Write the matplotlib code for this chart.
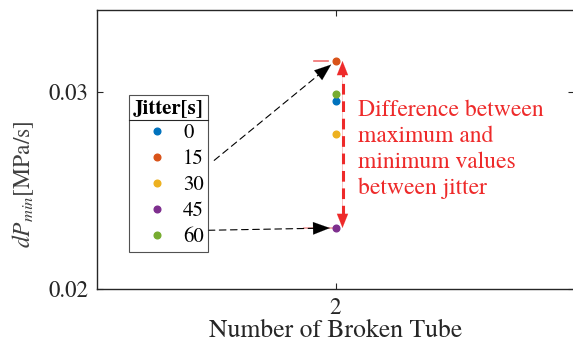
import matplotlib
matplotlib.use("Agg")
import matplotlib.pyplot as plt
import matplotlib.transforms as mtransforms
from matplotlib.lines import Line2D

# Chart data
tube_count = 2
jitter_labels = ["0", "15", "30", "45", "60"]
dp_min = [0.02954, 0.03157, 0.02787, 0.02310, 0.02990]
colors = ["#0072BD", "#D95319", "#EDB120", "#7E2F8E", "#77AC30"]
y_ticks = [0.02, 0.03]
note_text = "Difference between\nmaximum and\nminimum values\nbetween jitter"

# Times-like fonts
plt.rcParams["font.family"] = ["TeX Gyre Termes", "STIXGeneral", "DejaVu Serif"]
plt.rcParams["mathtext.fontset"] = "custom"
plt.rcParams["mathtext.rm"] = "TeX Gyre Termes"
plt.rcParams["mathtext.it"] = "TeX Gyre Termes:italic"

fig = plt.figure(figsize=(5.73, 3.52), dpi=100)
ax = fig.add_axes([97 / 573, 63 / 352, 477 / 573, 279 / 352])

# Points, one per jitter value
for lab, val, col in zip(jitter_labels, dp_min, colors):
    ax.plot(tube_count, val, "o", color=col, markersize=4.8, label=lab, zorder=5)

ax.set_xlim(1, 3)
ax.set_ylim(0.02, 0.03416)
ax.set_xticks([tube_count])
ax.set_yticks(y_ticks)
ax.set_yticklabels(["0.02", "0.03"])
ax.tick_params(direction="in", top=True, right=True, length=4.5, width=0.8,
               labelsize=16.5, colors="#262626", pad=6)
for sp in ax.spines.values():
    sp.set_linewidth(1.0)
    sp.set_color("#262626")

ax.set_xlabel("Number of Broken Tube", fontsize=18.5, color="#262626", labelpad=0)
ax.set_ylabel(r"$dP_{min}$[MPa/s]", fontsize=17, color="#404040")
ax.yaxis.set_label_coords(-0.128, 0.375)

# Max / min values
ymax = max(dp_min)
ymin = min(dp_min)
imax = dp_min.index(ymax)
imin = dp_min.index(ymin)

# Faint red marks at max and min
ax.plot([1.91, 1.97], [ymax, ymax], color="#f07070", lw=1.2, zorder=3)
ax.plot([1.87, 1.99], [ymin, ymin], color="#f0a0a0", lw=1.2, zorder=3)

# Red dashed double arrow shifted right of the points
shift = mtransforms.offset_copy(ax.transData, fig=fig, x=7, y=0, units="dots")
red = "#ee2a2a"
ax.plot([tube_count, tube_count], [ymin + 0.0006, ymax - 0.0006], transform=shift,
        color=red, lw=2.2, linestyle=(0, (3.5, 2.2)), zorder=4)
for start, end in [(ymin + 0.001, ymax), (ymax - 0.001, ymin)]:
    ax.annotate("", xy=(tube_count, end), xytext=(tube_count, start),
                xycoords=shift, textcoords=shift,
                arrowprops=dict(arrowstyle="-|>,head_length=1.0,head_width=0.4",
                                color=red, lw=0.1, shrinkA=0, shrinkB=0))

ax.text(0.548, 0.678, note_text, transform=ax.transAxes, color=red,
        fontsize=17, va="top", ha="left", linespacing=1.27)

# Legend
leg = ax.legend(title="Jitter[s]", loc="upper left",
                bbox_to_anchor=(129 / 573, 1 - 95 / 352),
                bbox_transform=fig.transFigure, borderaxespad=0,
                prop={"size": 15}, title_fontproperties={"weight": "bold", "size": 15},
                frameon=True, fancybox=False, edgecolor="#262626",
                handletextpad=0.1, handlelength=2.3, labelspacing=0.3,
                borderpad=0.2, markerscale=1.0, alignment="center")
leg.get_frame().set_linewidth(0.8)
leg.set_zorder(6)

# Black dashed arrows from legend to max and min points
fig.canvas.draw()
renderer = fig.canvas.get_renderer()
texts = leg.get_texts()
fb = leg.get_frame().get_window_extent(renderer)
tb_max = texts[imax].get_window_extent(renderer)
tb_min = texts[imin].get_window_extent(renderer)
tb_next = texts[imin + 1].get_window_extent(renderer)
y_lo = tb_min.y0 + tb_min.height / 2
y_hi = tb_next.y0 + tb_next.height / 2
starts = {imax: (fb.x1 + 6, tb_max.y0 + tb_max.height * 0.45),
          imin: (fb.x1, y_lo + 0.72 * (y_hi - y_lo))}
for idx, start in starts.items():
    tx, ty = ax.transData.transform((tube_count, dp_min[idx]))
    ax.annotate("", xy=(tube_count, dp_min[idx]), xytext=start,
                xycoords="data", textcoords="figure pixels",
                arrowprops=dict(arrowstyle="-", color="k", lw=0.8,
                                linestyle=(0, (6, 4)), shrinkA=0, shrinkB=12))
    mid = (start[0] + 0.85 * (tx - start[0]), start[1] + 0.85 * (ty - start[1]))
    ax.annotate("", xy=(tube_count, dp_min[idx]), xytext=mid,
                xycoords="data", textcoords="figure pixels",
                arrowprops=dict(arrowstyle="-|>,head_length=1.2,head_width=0.45",
                                color="k", lw=0.1, shrinkA=0, shrinkB=4))

# Separator line under the legend title
tt = leg.get_title().get_window_extent(renderer)
sep_y = (tt.y0 - 3) / fig.bbox.height
fig.add_artist(Line2D([fb.x0 / fig.bbox.width, fb.x1 / fig.bbox.width], [sep_y, sep_y],
                      color="#262626", lw=0.8, zorder=7))

fig.savefig("out.png", dpi=100)
